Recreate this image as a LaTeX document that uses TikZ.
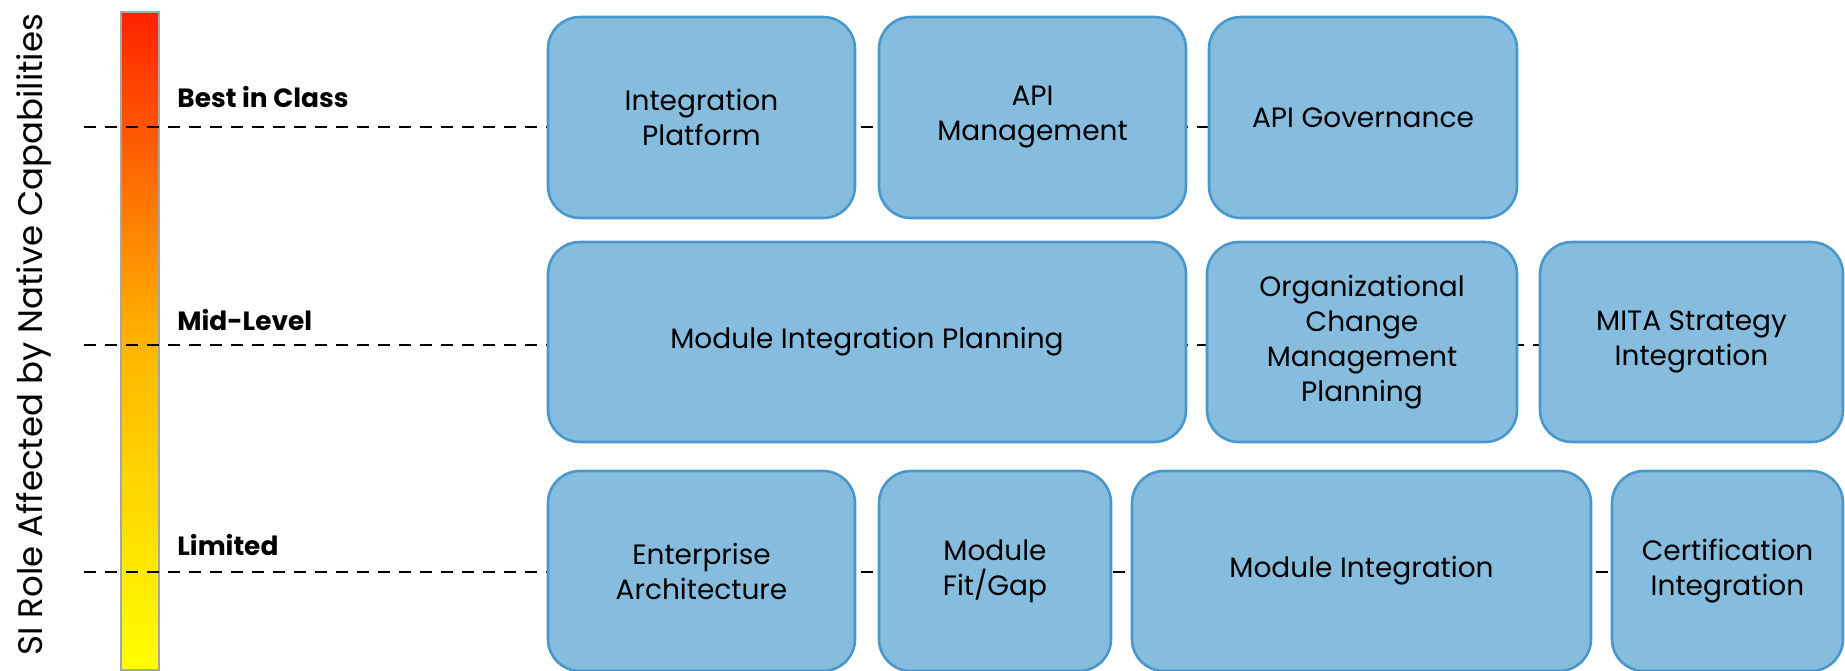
\documentclass[tikz,border=0pt]{standalone}
\usepackage{fontspec}
\setmainfont{Poppins}
\usetikzlibrary{backgrounds}

\definecolor{boxfill}{RGB}{134,188,222}
\definecolor{boxline}{RGB}{72,152,206}
\definecolor{heattop}{RGB}{255,34,0}
\definecolor{heatmid}{RGB}{255,180,0}
\definecolor{heatbot}{RGB}{255,255,0}

\tikzset{
  role/.style={draw=boxline, fill=boxfill, line width=1.3pt, rounded corners=16pt,
    align=center, inner sep=0pt, font=\fontsize{14}{17.5}\selectfont},
  level/.style={anchor=base west, inner sep=0pt, font=\bfseries\fontsize{13.2}{15}\selectfont},
  levelline/.style={dash pattern=on 6pt off 4.5pt, line width=1.2pt},
  heatbar/.style={draw=gray!70, line width=0.6pt, inner sep=0pt,
    top color=heattop, bottom color=heatbot, middle color=heatmid}
}

\begin{document}
\begin{tikzpicture}[x=0.5pt,y=-0.5pt]
\useasboundingbox (0,0) rectangle (1845,670);

% best in class
\node[role, minimum width=153.5pt, minimum height=100.5pt] (IntPlatform) at (701.5,117.5) {Integration\\Platform};
\node[role, minimum width=153.5pt, minimum height=100.5pt] (APIMgmt) at (1032.5,117.5) {API\\Management};
\node[role, minimum width=154pt, minimum height=100.5pt] (APIGov) at (1363,117.5) {API Governance};

% mid-level
\node[role, minimum width=319pt, minimum height=100pt] (ModPlanning) at (867,342) {Module Integration Planning};
\node[role, minimum width=155pt, minimum height=100pt] (OrgChange) at (1362,342) {Organizational\\Change\\Management\\Planning};
\node[role, minimum width=151.5pt, minimum height=100pt] (MITA) at (1691.5,342) {MITA Strategy\\Integration};

% limited
\node[role, minimum width=153.5pt, minimum height=100pt] (EntArch) at (701.5,571) {Enterprise\\Architecture};
\node[role, minimum width=116pt, minimum height=100pt] (FitGap) at (995,571) {Module\\Fit/Gap};
\node[role, minimum width=229.5pt, minimum height=100pt] (ModInt) at (1361.5,571) {Module Integration};
\node[role, minimum width=115.5pt, minimum height=100pt] (CertInt) at (1727.5,571) {Certification\\Integration};

% level labels
\node[level] (BestLbl) at (177,107) {Best in Class};
\node[level] (MidLbl) at (177,330) {Mid-Level};
\node[level] (LimLbl) at (177,555) {Limited};

\node[rotate=90, anchor=base west, inner sep=0pt, font=\fontsize{17}{19}\selectfont] (AxisTitle) at (42,656) {SI Role Affected by Native Capabilities};

\begin{scope}[on background layer]
  \node[heatbar, minimum width=19pt, minimum height=329pt] (HeatScale) at (140,341) {};
  \coordinate (BestStart) at (84,127);
  \coordinate (MidStart) at (84,345);
  \coordinate (LimStart) at (84,572);
  \draw[levelline] (BestStart) -- (BestStart -| APIGov.center);
  \draw[levelline] (MidStart) -- (MidStart -| MITA.center);
  \draw[levelline] (LimStart) -- (LimStart -| CertInt.center);
\end{scope}
\end{tikzpicture}
\end{document}
